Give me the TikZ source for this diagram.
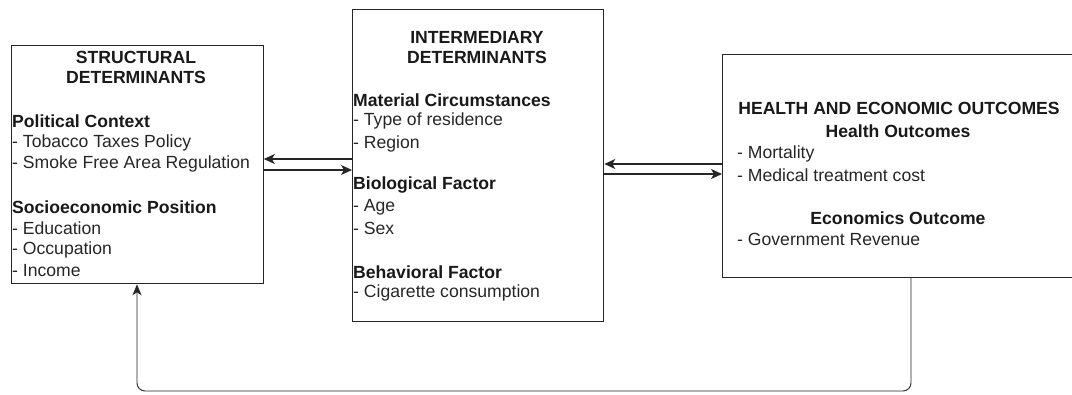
\documentclass[tikz,border=0pt]{standalone}
\usepackage{fontspec}
\setmainfont{Liberation Sans}
\usetikzlibrary{arrows.meta}
\tikzset{
  box/.style={draw=black!85, line width=1.3pt, inner sep=0pt},
  txt/.style={anchor=west, inner sep=0pt, font=\fontsize{17.6}{20}\selectfont, text=black!85},
  hd/.style={anchor=west, inner sep=0pt, font=\fontsize{17.6}{20}\selectfont\bfseries, text=black!90},
  ttl/.style={anchor=center, inner sep=0pt, font=\fontsize{17.6}{20}\selectfont\bfseries, text=black!90},
  conn/.style={line width=1.2pt, draw=black!85, -{Stealth[length=11pt,width=10pt,inset=3pt]}},
  loop/.style={line width=0.9pt, draw=black!85, rounded corners=8pt, -{Stealth[length=11pt,width=9pt,inset=3pt]}}
}
\begin{document}
\begin{tikzpicture}[x=1pt,y=-1pt]
\useasboundingbox (0,0) rectangle (1072,394);
% boxes
\node[box, minimum width=252pt, minimum height=238pt, anchor=north west] (L) at (10.5,45) {};
\node[box, minimum width=251pt, minimum height=312pt, anchor=north west] (M) at (352,8.5) {};
\node[box, minimum width=354pt, minimum height=223pt, anchor=north west] (R) at (722,53.5) {};
% left text
\node[ttl] (l1) at (136,57) {STRUCTURAL};
\node[ttl] (l2) at (136,77) {DETERMINANTS};
\node[hd] (l3) at (12,121) {Political Context};
\node[txt] (l4) at (12,143) {- Tobacco Taxes Policy};
\node[txt] (l5) at (12,164) {- Smoke Free Area Regulation};
\node[hd] (l6) at (12,207) {Socioeconomic Position};
\node[txt] (l7) at (12,228) {- Education};
\node[txt] (l8) at (12,250) {- Occupation};
\node[txt] (l9) at (12,271) {- Income};
% middle text
\node[ttl] (m1) at (477,37) {INTERMEDIARY};
\node[ttl] (m2) at (477,57) {DETERMINANTS};
\node[hd] (m3) at (353,100) {Material Circumstances};
\node[txt] (m4) at (353,121) {- Type of residence};
\node[txt] (m5) at (353,144) {- Region};
\node[hd] (m6) at (353,185) {Biological Factor};
\node[txt] (m7) at (353,207) {- Age};
\node[txt] (m8) at (353,228) {- Sex};
\node[hd] (m9) at (353,272) {Behavioral Factor};
\node[txt] (m10) at (353,293) {- Cigarette consumption};
% right text
\node[ttl] (r1) at (899,108) {HEALTH AND ECONOMIC OUTCOMES};
\node[ttl] (r2) at (898,131) {Health Outcomes};
\node[txt] (r3) at (737,154) {- Mortality};
\node[txt] (r4) at (737,175) {- Medical treatment cost};
\node[ttl] (r5) at (898,218) {Economics Outcome};
\node[txt] (r6) at (737,239) {- Government Revenue};
% connectors
\draw[conn] (M.west |- 0,159) -- (L.east |- 0,159);
\draw[conn] (L.east |- 0,170) -- (M.west |- 0,170);
\draw[conn] (R.west |- 0,164) -- (M.east |- 0,164);
\draw[conn] (M.east |- 0,174) -- (R.west |- 0,174);
\coordinate (c1) at (911,391);
\coordinate (c2) at (137,391);
\draw[loop] (R.south -| c1) -- (c1) -- (c2) -- (L.south -| c2);
\end{tikzpicture}
\end{document}
